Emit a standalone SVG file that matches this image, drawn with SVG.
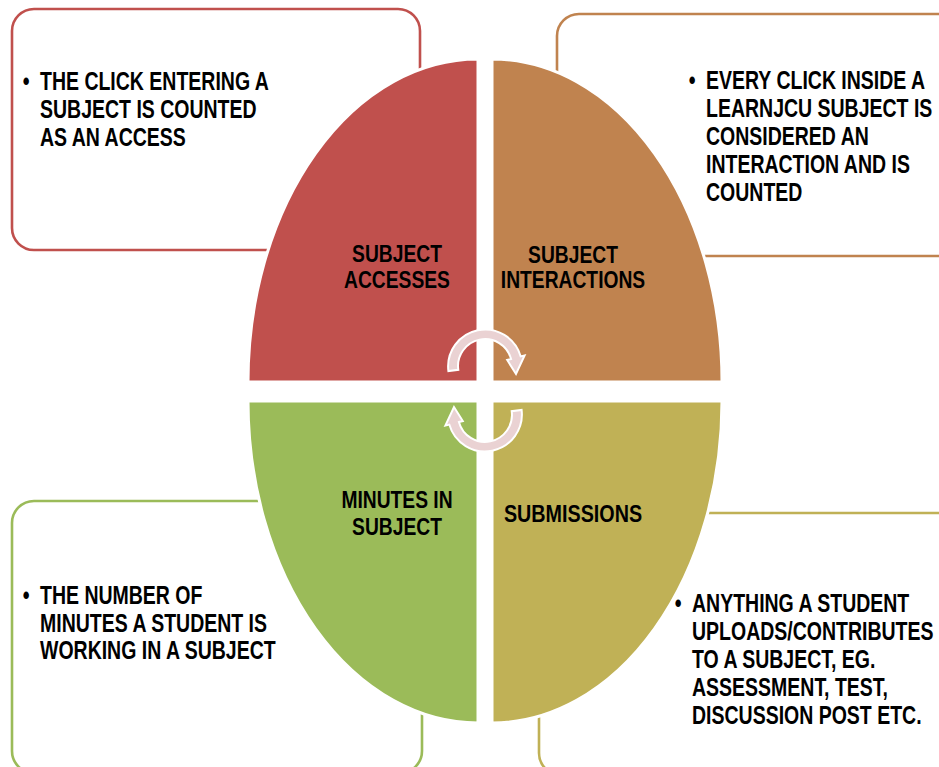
<svg xmlns="http://www.w3.org/2000/svg" width="939" height="767" viewBox="0 0 939 767">
<style>
.box{fill:#fff;stroke-width:2.6}
.q{stroke:#fff;stroke-width:3}
.t{font-family:"Liberation Sans",Arial,sans-serif;font-weight:bold;font-size:25px;fill:#000}
.lbl{font-family:"Liberation Sans",Arial,sans-serif;font-weight:bold;font-size:23.5px;fill:#000;text-anchor:middle}
.arr{fill:#ead2d3;stroke:#fff;stroke-width:2}
</style>
<defs>
<path id="cyc" d="M448.4,371.1 A37,37 0 0 1 520.7,356.4 L524.6,355.4 L516,374 L507.2,360 L511.1,359 A27,27 0 0 0 458.3,369.8 Z"/>
</defs>
<rect width="939" height="767" fill="#fff"/>
<g id="box-accesses"><rect class="box" x="12" y="9" width="408" height="241" rx="22" stroke="#c0504d"/></g>
<g id="box-interactions"><rect class="box" x="557" y="14" width="420" height="242" rx="22" stroke="#c0834f"/></g>
<g id="box-minutes"><rect class="box" x="12" y="501" width="410" height="272" rx="22" stroke="#9bbb59"/></g>
<g id="box-submissions"><rect class="box" x="539" y="513" width="440" height="262" rx="22" stroke="#c0b156"/></g>
<g id="q-accesses"><path class="q" d="M478,382 L248,382 A230,323 0 0 1 478,59 Z" fill="#c0504d"/>
<g class="lbl" transform="translate(397 0) scale(0.82 1)"><text x="0" y="262">SUBJECT</text><text x="0" y="288">ACCESSES</text></g></g>
<g id="q-interactions"><path class="q" d="M492,382 L492,59 A230,323 0 0 1 722,382 Z" fill="#c0834f"/>
<g class="lbl" transform="translate(573 0) scale(0.82 1)"><text x="0" y="263">SUBJECT</text><text x="0" y="288">INTERACTIONS</text></g></g>
<g id="q-minutes"><path class="q" d="M478,401 L478,723 A230,322 0 0 1 248,401 Z" fill="#9bbb59"/>
<g class="lbl" transform="translate(397 0) scale(0.82 1)"><text x="0" y="508">MINUTES IN</text><text x="0" y="535">SUBJECT</text></g></g>
<g id="q-submissions"><path class="q" d="M492,401 L722,401 A230,322 0 0 1 492,723 Z" fill="#c0b156"/>
<g class="lbl" transform="translate(573 0) scale(0.84 1)"><text x="0" y="522">SUBMISSIONS</text></g></g>
<g id="connectors">
<use href="#cyc" class="arr"/>
<use href="#cyc" class="arr" transform="rotate(180 485 390.5)"/>
</g>
<g id="text-accesses" class="t" transform="translate(40 0) scale(0.78 1)">
<text x="-22" y="90">•</text>
<text x="0" y="90">THE CLICK ENTERING A</text>
<text x="0" y="118">SUBJECT IS COUNTED</text>
<text x="0" y="146">AS AN ACCESS</text>
</g>
<g id="text-interactions" class="t" transform="translate(706 0) scale(0.78 1)">
<text x="-22" y="89">•</text>
<text x="0" y="89">EVERY CLICK INSIDE A</text>
<text x="0" y="117">LEARNJCU SUBJECT IS</text>
<text x="0" y="145">CONSIDERED AN</text>
<text x="0" y="173">INTERACTION AND IS</text>
<text x="0" y="201">COUNTED</text>
</g>
<g id="text-minutes" class="t" transform="translate(40 0) scale(0.78 1)">
<text x="-22" y="604">•</text>
<text x="0" y="604">THE NUMBER OF</text>
<text x="0" y="632">MINUTES A STUDENT IS</text>
<text x="0" y="659">WORKING IN A SUBJECT</text>
</g>
<g id="text-submissions" class="t" transform="translate(692 0) scale(0.78 1)">
<text x="-22" y="612">•</text>
<text x="0" y="612">ANYTHING A STUDENT</text>
<text x="0" y="640">UPLOADS/CONTRIBUTES</text>
<text x="0" y="668">TO A SUBJECT, EG.</text>
<text x="0" y="696">ASSESSMENT, TEST,</text>
<text x="0" y="724">DISCUSSION POST ETC.</text>
</g>
</svg>
